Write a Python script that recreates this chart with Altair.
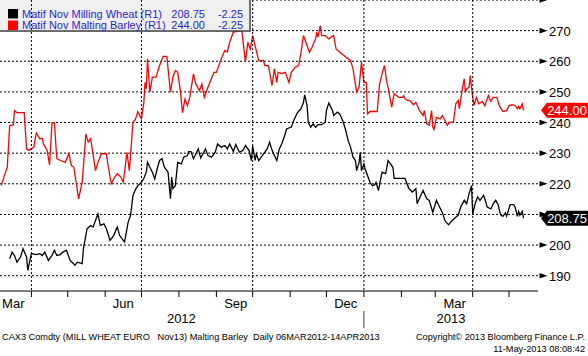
import altair as alt
import pandas as pd

# ---------------- data ----------------
START = pd.Timestamp("2012-03-06")  # first observation; days below count from here

wheat_day = [8, 10, 12, 14, 17, 19, 22, 23, 25, 26, 30, 33, 35, 37, 40, 43, 45, 47, 50, 52,
             55, 58, 60, 62, 64, 68, 69, 72, 75, 77, 79, 81, 83, 86, 88, 91, 94, 97, 99, 101,
             103, 104, 106, 108, 110, 112, 114, 117, 119, 121, 122, 124, 126, 128, 130, 132, 134, 136, 139, 141,
             142, 143, 145, 147, 150, 152, 155, 156, 158, 160, 162, 164, 166, 170, 172, 175, 178, 180, 183, 186,
             188, 190, 193, 195, 198, 201, 203, 206, 208, 209, 211, 212, 214, 218, 221, 223, 225, 227, 229, 231,
             233, 235, 237, 241, 243, 246, 249, 251, 252, 254, 255, 257, 259, 261, 263, 266, 269, 270, 272, 275,
             276, 279, 281, 284, 286, 288, 290, 292, 294, 295, 297, 298, 299, 301, 302, 304, 306, 308, 310, 311,
             313, 316, 319, 321, 323, 325, 326, 335, 338, 341, 344, 345, 348, 350, 353, 355, 358, 361, 363, 366,
             368, 371, 374, 377, 379, 381, 384, 386, 388, 390, 391, 393, 395, 397, 400, 401, 403, 406, 408, 410,
             412, 414, 416, 418, 419, 422, 425, 426, 428, 429, 430, 432, 433]
wheat_val = [195.5, 197.7, 196.6, 194.4, 196.1, 198.8, 196.1, 191.7, 195.5, 197.2, 196.9, 197.2, 196.6, 197.7, 195.0, 196.6, 198.3, 196.6, 196.9, 197.7,
             198.3, 195.0, 194.2, 193.4, 194.4, 193.9, 198.8, 205.3, 206.4, 205.9, 208.0, 210.2, 206.4, 206.9, 205.3, 201.5, 203.1, 205.9, 203.1, 202.0,
             201.0, 203.1, 207.5, 209.7, 216.2, 218.1, 219.4, 220.5, 221.8, 223.8, 227.0, 225.4, 223.8, 221.6, 224.9, 227.6, 228.2, 225.4, 223.8, 215.1,
             222.2, 218.4, 219.4, 227.0, 226.5, 228.7, 229.2, 230.5, 230.5, 228.2, 229.8, 231.4, 228.4, 231.4, 229.2, 228.7, 230.3, 233.0, 231.9, 232.5,
             231.4, 233.0, 230.5, 232.8, 230.3, 230.9, 232.5, 230.9, 227.6, 232.5, 227.6, 229.8, 227.6, 229.8, 231.4, 233.6, 231.0, 229.2, 227.6, 231.4,
             233.0, 235.2, 237.9, 238.5, 240.7, 243.2, 244.5, 246.6, 249.0, 245.5, 240.1, 238.5, 239.6, 238.5, 239.3, 239.3, 240.1, 243.9, 246.4, 243.9,
             242.3, 243.4, 242.8, 240.1, 237.4, 234.1, 231.9, 228.7, 227.6, 224.3, 227.0, 230.3, 224.3, 226.5, 224.9, 222.7, 220.5, 219.4, 219.7, 220.5,
             217.8, 223.8, 223.3, 227.6, 226.5, 225.4, 221.8, 221.8, 218.6, 217.3, 218.4, 213.5, 216.2, 217.8, 215.1, 214.6, 210.7, 214.6, 212.9, 210.5,
             208.0, 206.6, 208.0, 209.1, 209.7, 212.4, 214.6, 213.5, 216.8, 219.4, 210.2, 213.5, 215.7, 214.6, 216.2, 215.1, 212.4, 211.8, 213.5, 214.6,
             213.2, 209.9, 209.4, 210.5, 209.4, 213.2, 213.2, 212.4, 209.4, 211.0, 209.7, 211.0, 208.75]

barley_day = [1, 5, 6, 8, 11, 12, 14, 20, 22, 24, 28, 30, 33, 35, 36, 39, 41, 43, 45, 47,
              50, 54, 57, 59, 61, 63, 65, 68, 71, 73, 75, 79, 81, 84, 88, 89, 92, 95, 97, 100,
              102, 105, 107, 110, 112, 114, 117, 119, 120, 121, 122, 124, 126, 129, 132, 135, 138, 141, 143, 145,
              147, 149, 151, 153, 155, 157, 160, 162, 165, 167, 169, 172, 177, 179, 182, 184, 186, 188, 190, 193,
              200, 203, 205, 207, 209, 211, 214, 218, 219, 222, 225, 227, 229, 230, 233, 236, 239, 241, 244, 247,
              249, 251, 253, 256, 258, 261, 262, 263, 265, 266, 269, 272, 274, 276, 278, 283, 290, 292, 295, 297,
              299, 301, 303, 304, 306, 312, 314, 316, 318, 320, 321, 324, 326, 330, 333, 334, 335, 337, 339, 342,
              344, 347, 350, 351, 353, 355, 357, 358, 359, 361, 364, 366, 370, 372, 375, 377, 379, 380, 382, 384,
              385, 386, 388, 389, 390, 392, 394, 396, 399, 401, 404, 406, 408, 411, 413, 416, 419, 421, 424, 426,
              428, 429, 430, 432, 433]
barley_val = [219.4, 224.3, 225.4, 239.0, 239.2, 243.9, 243.2, 243.2, 231.4, 230.9, 232.0, 236.6, 234.7, 234.8, 233.0, 230.9, 226.2, 239.9, 239.9, 228.2,
              227.6, 227.0, 229.8, 226.0, 225.4, 220.5, 215.1, 220.5, 236.3, 233.6, 234.7, 224.3, 227.0, 229.8, 229.8, 227.0, 220.0, 222.2, 223.3, 222.2,
              220.5, 230.3, 224.3, 240.1, 241.0, 243.5, 241.2, 246.6, 253.1, 251.0, 260.8, 249.9, 254.8, 254.8, 258.6, 261.6, 261.6, 249.9, 254.8, 257.0,
              256.4, 251.0, 243.2, 247.7, 245.5, 248.2, 255.9, 252.6, 250.4, 252.6, 248.2, 251.5, 256.4, 256.4, 259.7, 261.8, 263.5, 263.0, 266.2, 269.5,
              270.0, 259.7, 266.2, 264.0, 268.4, 265.1, 260.2, 260.2, 258.6, 258.6, 252.1, 257.5, 253.1, 256.4, 256.0, 256.4, 253.1, 256.4, 258.0, 258.6,
              262.9, 268.4, 266.2, 262.9, 264.5, 267.3, 269.5, 267.9, 271.6, 268.4, 268.4, 267.3, 267.9, 268.4, 264.0, 262.4, 260.2, 257.5, 249.9, 251.5,
              259.7, 253.1, 253.1, 242.8, 243.6, 243.6, 252.6, 255.9, 258.6, 253.1, 251.5, 245.0, 249.4, 248.2, 248.2, 248.8, 247.7, 247.2, 247.2, 245.8,
              246.6, 243.9, 242.3, 243.9, 239.6, 239.1, 243.9, 238.5, 237.7, 241.7, 241.2, 242.3, 239.1, 240.1, 240.1, 246.1, 247.2, 244.5, 249.9, 254.3,
              249.9, 251.0, 251.5, 255.3, 251.5, 245.5, 248.2, 246.1, 246.9, 245.5, 248.8, 246.9, 248.2, 248.2, 245.5, 243.6, 243.9, 245.5, 245.8, 245.5,
              244.5, 245.2, 244.5, 246.1, 244.0]

series_names = ["Matif Nov Milling Wheat (R1)", "Matif Nov Malting Barley (R1)"]
series_colors = ["#000000", "#ff0000"]
series_changes = ["-2.25", "-2.25"]

grid_values = [190, 200, 210, 220, 230, 240, 250, 260, 270, 280]
axis_labels = [190, 200, 220, 230, 240, 250, 260, 270]   # 210 is covered by the last-value tag
tick_values = [185, 190, 195, 200, 205, 210, 215, 220, 225, 230, 235, 240, 245, 250, 255, 260, 265, 270, 275, 280]
quarter_starts = ["2012-04-01", "2012-07-01", "2012-10-01", "2013-01-01", "2013-04-01"]
month_starts = ["2012-04-01", "2012-05-01", "2012-06-01", "2012-07-01", "2012-08-01", "2012-09-01", "2012-10-01",
                "2012-11-01", "2012-12-01", "2013-01-01", "2013-02-01", "2013-03-01", "2013-04-01", "2013-05-01"]
month_label_dates = ["2012-03-17", "2012-06-16", "2012-09-17", "2012-12-17", "2013-03-17"]
month_labels = ["Mar", "Jun", "Sep", "Dec", "Mar"]
year_label_dates = ["2012-08-03", "2013-03-14"]
year_labels = ["2012", "2013"]
year_breaks = ["2013-01-01"]
footer_left = "CAX3 Comdty (MILL WHEAT EURO\u00a0\u00a0 Nov13) Malting Barley\u00a0 Daily 06MAR2012-14APR2013"
footer_right = "Copyright\u00a9 2013 Bloomberg Finance L.P."
timestamp = "11-May-2013 08:08:42"

# ---------------- frames ----------------
assert len(wheat_day) == len(wheat_val) and len(barley_day) == len(barley_val)
wheat = pd.DataFrame({"day": wheat_day, "value": wheat_val, "series": series_names[0]})
barley = pd.DataFrame({"day": barley_day, "value": barley_val, "series": series_names[1]})
wheat["idx"] = range(len(wheat))
barley["idx"] = range(len(barley))
lines_df = pd.concat([wheat, barley], ignore_index=True)
lines_df["date"] = START + pd.to_timedelta(lines_df["day"], unit="D")

last_df = pd.DataFrame({
    "series": series_names,
    "value": [wheat_val[-1], barley_val[-1]],
    "color": series_colors,
})
last_df["label"] = last_df["value"].map(lambda v: f"{v:.2f}")

dummy = pd.DataFrame({"a": [0]})

FONT = "Liberation Sans"
W, H = 538, 291

xscale = alt.Scale(domain=[alt.DateTime(year=2012, month=3, date=6),
                           alt.DateTime(year=2013, month=5, date=25)])
yscale = alt.Scale(domain=[185, 280], nice=False, zero=False)

yaxis = alt.Axis(
    orient="right", values=tick_values, labels=False,
    tickSize=5, tickColor="black", tickWidth=1,
    domainColor="#808080", domainWidth=1.5, grid=False, title=None, zindex=0,
)

def X(field):
    return alt.X(f"{field}:T", scale=xscale, axis=None)

def Y(field):
    return alt.Y(f"{field}:Q", scale=yscale, axis=None)

# horizontal dotted grid + right axis line / minor ticks
grid_h = alt.Chart(pd.DataFrame({"v": grid_values})).mark_rule(
    color="black", strokeDash=[2, 2], strokeWidth=1
).encode(y=alt.Y("v:Q", scale=yscale, axis=yaxis))

# right-axis labels
ylabels = alt.Chart(pd.DataFrame({"v": axis_labels})).mark_text(
    font=FONT, fontSize=13, color="black", align="left", baseline="middle", dy=1
).encode(y=Y("v"), x=alt.value(W + 11), text=alt.Text("v:Q", format="d"))

# vertical dotted grid at quarter starts
grid_v = alt.Chart(pd.DataFrame({"d": pd.to_datetime(quarter_starts)})).mark_rule(
    color="black", strokeDash=[2, 2], strokeWidth=1
).encode(x=X("d"))

# bottom axis line and monthly ticks
bottom_line = alt.Chart(dummy).mark_rule(color="black", strokeWidth=1).encode(
    x=alt.value(0), x2=alt.value(W), y=alt.value(H)
)
month_ticks = alt.Chart(pd.DataFrame({"d": pd.to_datetime(month_starts)})).mark_rule(
    color="black", strokeWidth=1
).encode(x=X("d"), y=alt.value(H), y2=alt.value(H + 6))

year_sep = alt.Chart(pd.DataFrame({"d": pd.to_datetime(year_breaks)})).mark_rule(
    color="#404040", strokeWidth=1
).encode(x=X("d"), y=alt.value(H + 20), y2=alt.value(H + 37))

month_text = alt.Chart(pd.DataFrame({"d": pd.to_datetime(month_label_dates), "t": month_labels})).mark_text(
    font=FONT, fontSize=13, color="black", baseline="middle", align="center"
).encode(x=X("d"), y=alt.value(H + 13), text="t:N")

year_text = alt.Chart(pd.DataFrame({"d": pd.to_datetime(year_label_dates), "t": year_labels})).mark_text(
    font=FONT, fontSize=13, color="black", baseline="middle", align="center"
).encode(x=X("d"), y=alt.value(H + 28), text="t:N")

# series lines
lines = alt.Chart(lines_df).mark_line(strokeWidth=1.3, interpolate="linear").encode(
    x=X("date"),
    y=Y("value"),
    color=alt.Color("series:N", scale=alt.Scale(domain=series_names, range=series_colors), legend=None),
    order=alt.Order("idx:Q"),
)

# legend box
legend_box = alt.Chart(dummy).mark_rect(fill="#f0f0f0", stroke="#404040", strokeWidth=1.5).encode(
    x=alt.value(-2), x2=alt.value(250), y=alt.value(-2), y2=alt.value(31)
)
legend_layers = []
for i, (name, col, chg) in enumerate(zip(series_names, series_colors, series_changes)):
    top = 9 + i * 11.5
    cy = 14.5 + i * 11.5
    legend_layers.append(alt.Chart(dummy).mark_rect(fill=col).encode(
        x=alt.value(8), x2=alt.value(18), y=alt.value(top), y2=alt.value(top + 9.5)))
    txt = alt.Chart(pd.DataFrame({"n": [name], "v": [last_df["label"][i]], "c": [chg]}))
    style = dict(font=FONT, fontSize=11, color="#1f1fdf", baseline="middle")
    legend_layers.append(txt.mark_text(align="left", **style).encode(x=alt.value(22), y=alt.value(cy), text="n:N"))
    legend_layers.append(txt.mark_text(align="right", **style).encode(x=alt.value(205), y=alt.value(cy), text="v:N"))
    legend_layers.append(txt.mark_text(align="right", **style).encode(x=alt.value(243), y=alt.value(cy), text="c:N"))

# right-axis triangles at major ticks
tri = alt.Chart(pd.DataFrame({"v": grid_values})).mark_point(
    shape="M -1 -0.7 L 1 0 L -1 0.7 Z", filled=True, color="black", opacity=1, size=64
).encode(y=Y("v"), x=alt.value(W + 5.5))

# last-value tags
tag_box = alt.Chart(last_df).mark_point(
    shape="M -1 0 L -0.75 -0.32 L 1 -0.32 L 1 0.32 L -0.75 0.32 Z",
    filled=True, opacity=1, size=2209, strokeWidth=0
).encode(
    y=Y("value"), x=alt.value(W + 26.5),
    color=alt.Color("color:N", scale=None, legend=None),
)
tag_text = alt.Chart(last_df).mark_text(
    font=FONT, fontSize=13, color="white", align="center", baseline="middle", dy=0.5
).encode(y=Y("value"), x=alt.value(W + 29), text="label:N")

# footer
foot_style = dict(font=FONT, fontSize=9.2, color="black", baseline="middle")
foot_l = alt.Chart(dummy).mark_text(align="left", text=footer_left, **foot_style).encode(
    x=alt.value(2), y=alt.value(H + 46))
foot_r = alt.Chart(dummy).mark_text(align="right", text=footer_right, **foot_style).encode(
    x=alt.value(585), y=alt.value(H + 46))
foot_t = alt.Chart(dummy).mark_text(align="right", text=timestamp, **foot_style).encode(
    x=alt.value(585), y=alt.value(H + 57.5))

chart = alt.layer(
    grid_h, lines, legend_box, grid_v, bottom_line, month_ticks, year_sep, month_text, year_text,
    *legend_layers, ylabels, tri, tag_box, tag_text, foot_l, foot_r, foot_t
).properties(
    width=W, height=H,
    autosize=alt.AutoSizeParams(type="none"),
    padding={"left": 0, "top": 0, "right": 50, "bottom": 65},
    background="white",
).configure_view(stroke=None)

chart.save("out.html", embed_options={"renderer": "svg", "actions": False})
